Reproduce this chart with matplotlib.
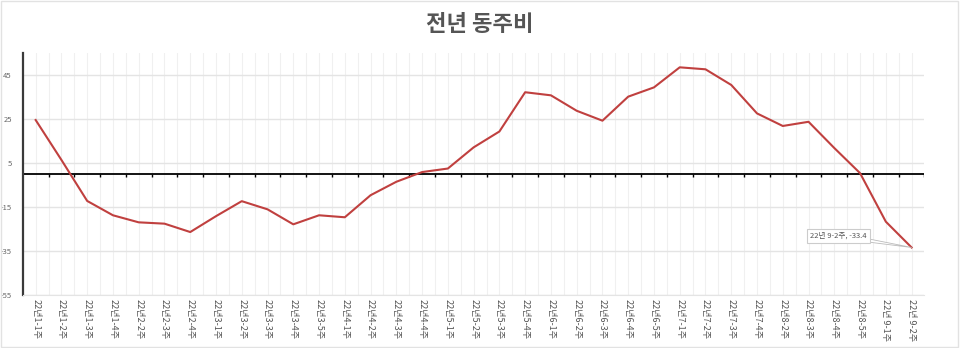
import matplotlib
matplotlib.use('Agg')
import matplotlib.pyplot as plt
import numpy as np
from matplotlib.patches import Rectangle

plt.rcParams['font.family'] = ['Noto Sans CJK KR', 'DejaVu Sans']
plt.rcParams['axes.unicode_minus'] = False

# 주차 라벨
weeks = ['22년1-1주', '22년1-2주', '22년1-3주', '22년1-4주', '22년2-2주', '22년2-3주',
         '22년2-4주', '22년3-1주', '22년3-2주', '22년3-3주', '22년3-4주', '22년3-5주',
         '22년4-1주', '22년4-2주', '22년4-3주', '22년4-4주', '22년5-1주', '22년5-2주',
         '22년5-3주', '22년5-4주', '22년6-1주', '22년6-2주', '22년6-3주', '22년6-4주',
         '22년6-5주', '22년7-1주', '22년7-2주', '22년7-3주', '22년7-4주', '22년8-2주',
         '22년8-3주', '22년8-4주', '22년8-5주', '22년 9-1주', '22년 9-2주']

# 전년 동주 대비 증감
yoy = [24.4, 6.3, -12.3, -18.8, -22.0, -22.6, -26.4, -19.2, -12.4, -16.1, -22.9, -18.8,
       -19.7, -9.7, -3.6, 0.8, 2.4, 12.0, 19.2, 37.0, 35.6, 28.6, 24.1, 35.0, 39.2,
       48.3, 47.4, 40.3, 27.4, 21.7, 23.6, 11.7, 0.3, -21.7, -33.4]

yticks = [-55, -35, -15, 5, 25, 45]

fig = plt.figure(figsize=(9.6, 3.48), dpi=100)
ax = fig.add_axes([0.024, 0.152, 0.939, 0.697])

x = np.arange(len(weeks))
ax.plot(x, yoy, color='#c0403f', linewidth=1.5, zorder=3)

ax.set_xlim(-0.49, len(weeks) - 0.5)
ax.set_ylim(-55, 55)

ax.set_yticks(yticks)
ax.set_yticklabels([str(v) for v in yticks])
ax.tick_params(axis='y', length=0, pad=8, labelsize=5.5, labelcolor='#666666')

bounds = x[:-1] + 0.5
ax.set_xticks(x)
ax.set_xticks(bounds, minor=True)
ax.set_xticklabels(weeks, rotation=-90, fontsize=6.5, color='#555555')
ax.tick_params(axis='x', which='both', length=0, pad=3)

ax.grid(axis='x', which='both', color='#f0f0f0', linewidth=0.8)
ax.grid(axis='y', which='major', color='#e4e4e4', linewidth=1)
ax.set_axisbelow(True)

for s in ['top', 'right']:
    ax.spines[s].set_visible(False)
ax.spines['bottom'].set_color('#e4e4e4')
ax.spines['left'].set_color('#3a3a3a')
ax.spines['left'].set_linewidth(1.6)

# 0 기준선과 구간 눈금
ax.axhline(0, color='black', linewidth=1.3, zorder=2)
ax.vlines(np.append(bounds, len(weeks) - 0.5), -1.4, 0, color='black', linewidth=1, zorder=2)

# 마지막 값 표시
ax.annotate(f'{weeks[-1]}, {yoy[-1]}', xy=(x[-1], yoy[-1]), xytext=(x[-1] - 2.85, -28.0),
            ha='center', va='center', fontsize=5.5, color='#555555',
            bbox=dict(boxstyle='square,pad=0.4', fc='white', ec='#cccccc', lw=0.8),
            arrowprops=dict(arrowstyle='wedge,tail_width=0.4', fc='white', ec='#bbbbbb',
                            lw=0.6, shrinkA=0, shrinkB=0),
            zorder=5)

fig.text(0.5, 0.93, '전년 동주비', ha='center', va='center', fontsize=16,
         fontweight='bold', color='#555555')

fig.patches.append(Rectangle((0.001, 0.002), 0.997, 0.995, transform=fig.transFigure,
                             fill=False, ec='#e2e2e2', lw=1))

fig.savefig('out.png', dpi=100)
